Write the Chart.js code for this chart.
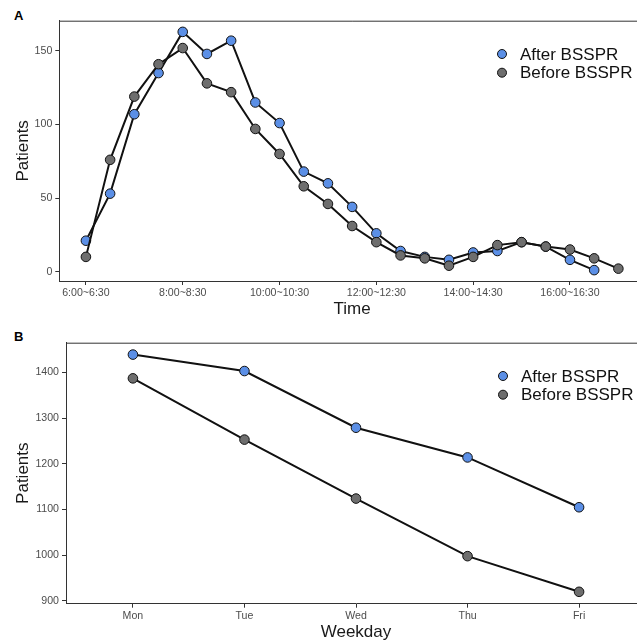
<!DOCTYPE html>
<html>
<head>
<meta charset="utf-8">
<script src="https://cdn.jsdelivr.net/npm/chart.js@4.4.1/dist/chart.umd.min.js"></script>
<style>
  html, body { margin: 0; padding: 0; background: #fff; overflow: hidden; width: 637px; height: 643px; }
  .panel { position: absolute; left: 0; }
  .tag { position: absolute; font: bold 13px 'Liberation Sans', Arial, sans-serif; color: #000; }
</style>
</head>
<body>
<div class="tag" style="left:14px; top:8px;">A</div>
<div class="tag" style="left:14px; top:329px;">B</div>
<canvas id="timeChart" class="panel" style="top:0;" width="650" height="320"></canvas>
<canvas id="dayChart" class="panel" style="top:320px;" width="651" height="323"></canvas>
<script>
// datos
const seriesNames = ['After BSSPR', 'Before BSSPR'];
const seriesColors = ['#5b8fe6', '#6e6e6e'];

// Panel A: pacientes por franja horaria
const timeSlots = [
  '6:00~6:30', '6:30~7:00', '7:00~7:30', '7:30~8:00', '8:00~8:30', '8:30~9:00',
  '9:00~9:30', '9:30~10:00', '10:00~10:30', '10:30~11:00', '11:00~11:30', '11:30~12:00',
  '12:00~12:30', '12:30~13:00', '13:00~13:30', '13:30~14:00', '14:00~14:30', '14:30~15:00',
  '15:00~15:30', '15:30~16:00', '16:00~16:30', '16:30~17:00', '17:00~17:30',
];
const afterByTime = [21, 53, 107, 135, 163, 148, 157, 115, 101, 68, 60, 44, 26, 14, 10, 8, 13, 14, 20, 17, 8, 1];
const beforeByTime = [10, 76, 119, 141, 152, 128, 122, 97, 80, 58, 46, 31, 20, 11, 9, 4, 10, 18, 20, 17, 15, 9, 2];
const timeTickLabels = ['6:00~6:30', '8:00~8:30', '10:00~10:30', '12:00~12:30', '14:00~14:30', '16:00~16:30'];
const timeYTicks = [0, 50, 100, 150];

// Panel B: pacientes por dia de la semana
const weekdays = ['Mon', 'Tue', 'Wed', 'Thu', 'Fri'];
const afterByDay = [1439, 1403, 1279, 1214, 1105];
const beforeByDay = [1387, 1253, 1124, 998, 920];
const dayYTicks = [900, 1000, 1100, 1200, 1300, 1400];

const FONT = "'Liberation Sans', Arial, sans-serif";
const tickFont = { family: FONT, size: 10.6 };
const titleFont = { family: FONT, size: 17 };

// marco superior del panel (ggplot panel.border)
const topBorder = {
  id: 'topBorder',
  afterDraw(chart) {
    const { ctx, chartArea } = chart;
    ctx.save();
    ctx.strokeStyle = '#333';
    ctx.lineWidth = 1;
    ctx.beginPath();
    ctx.moveTo(chartArea.left, chartArea.top + 0.5);
    ctx.lineTo(chartArea.right, chartArea.top + 0.5);
    ctx.stroke();
    ctx.restore();
  },
};

// leyenda dentro del area del grafico
const insideLegend = {
  id: 'insideLegend',
  afterDraw(chart, args, opts) {
    const { ctx } = chart;
    ctx.save();
    ctx.font = `17px ${FONT}`;
    ctx.textBaseline = 'middle';
    seriesNames.forEach((name, i) => {
      const y = opts.y + i * 18.7;
      ctx.beginPath();
      ctx.arc(opts.x, y, 4.5, 0, Math.PI * 2);
      ctx.fillStyle = seriesColors[i];
      ctx.fill();
      ctx.lineWidth = 1;
      ctx.strokeStyle = '#111';
      ctx.stroke();
      ctx.fillStyle = '#111';
      ctx.fillText(name, opts.x + 18, y + 1);
    });
    ctx.restore();
  },
};

function makeDataset(i, values) {
  return {
    label: seriesNames[i],
    data: values.map((v, idx) => ({ x: idx, y: v })),
    borderColor: '#111',
    borderWidth: 2,
    pointBackgroundColor: seriesColors[i],
    pointBorderColor: '#111',
    pointBorderWidth: 1,
    pointRadius: 4.8,
    tension: 0,
    order: i === 0 ? 1 : 0,
  };
}

function yScale(ticksList, min, max, width, titlePad) {
  return {
    min: min,
    max: max,
    afterBuildTicks: (axis) => { axis.ticks = ticksList.map((v) => ({ value: v })); },
    afterFit: (axis) => {
      axis.width = width;
      axis.paddingTop = 0;
      axis.paddingBottom = 0;
    },
    ticks: { font: tickFont, color: '#4d4d4d', padding: 3, callback: (v) => String(v) },
    grid: { display: true, drawOnChartArea: false, tickLength: 4, color: '#333' },
    border: { color: '#333', width: 1 },
    title: { display: true, text: 'Patients', font: titleFont, color: '#1a1a1a', padding: { top: titlePad } },
  };
}

function xScale(min, max, tickIdx, labels, height, titleText) {
  return {
    type: 'linear',
    min: min,
    max: max,
    afterBuildTicks: (axis) => { axis.ticks = tickIdx.map((v) => ({ value: v })); },
    afterFit: (axis) => {
      axis.height = height;
      axis.paddingLeft = 0;
      axis.paddingRight = 0;
    },
    ticks: { font: tickFont, color: '#4d4d4d', padding: 2, maxRotation: 0, autoSkip: false, callback: (v) => labels[v] },
    grid: { display: true, drawOnChartArea: false, tickLength: 4, color: '#333' },
    border: { color: '#333', width: 1 },
    title: { display: true, text: titleText, font: titleFont, color: '#1a1a1a', padding: { top: 0, bottom: 0 } },
  };
}

const commonPlugins = {
  legend: { display: false },
  tooltip: { enabled: false },
};

// Grafico A
new Chart(document.getElementById('timeChart').getContext('2d'), {
  type: 'line',
  data: { datasets: [makeDataset(0, afterByTime), makeDataset(1, beforeByTime)] },
  options: {
    responsive: false,
    animation: false,
    layout: { autoPadding: false, padding: { top: 20.7, right: 5, bottom: 0, left: 0 } },
    scales: {
      x: xScale(-1.1, 23.1, timeTickLabels.map((t) => timeSlots.indexOf(t)), timeSlots, 39, 'Time'),
      y: yScale(timeYTicks, -6.4, 170.6, 59.3, 12.8),
    },
    plugins: { ...commonPlugins, insideLegend: { x: 502, y: 54 } },
  },
  plugins: [topBorder, insideLegend],
});

// Grafico B
new Chart(document.getElementById('dayChart').getContext('2d'), {
  type: 'line',
  data: { datasets: [makeDataset(0, afterByDay), makeDataset(1, beforeByDay)] },
  options: {
    responsive: false,
    animation: false,
    layout: { autoPadding: false, padding: { top: 22.7, right: 5, bottom: 0, left: 0 } },
    scales: {
      x: xScale(-0.6, 4.6, weekdays.map((d, i) => i), weekdays, 39.3, 'Weekday'),
      y: yScale(dayYTicks, 894, 1465, 66, 12.8),
    },
    plugins: { ...commonPlugins, insideLegend: { x: 503, y: 56 } },
  },
  plugins: [topBorder, insideLegend],
});
</script>
</body>
</html>
